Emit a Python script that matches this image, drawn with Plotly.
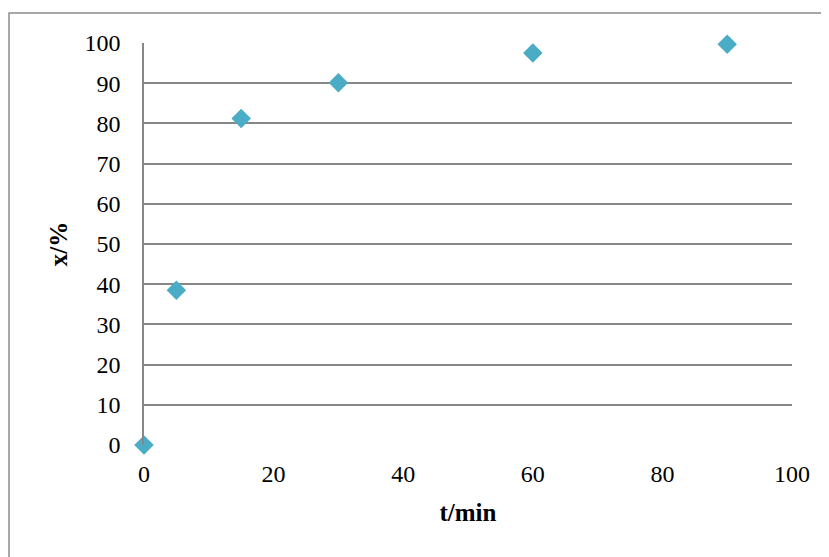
import plotly.graph_objects as go

t_min = [0, 5, 15, 30, 60, 90]
x_pct = [0, 38.5, 81.2, 90.1, 97.5, 99.7]

x_ticks = [0, 20, 40, 60, 80, 100]
y_ticks = [0, 10, 20, 30, 40, 50, 60, 70, 80, 90, 100]

W, H = 821, 549
L, R, T, B = 136, 37, 35, 112
pw, ph = W - L - R, H - T - B

fig = go.Figure()
fig.add_trace(go.Scatter(
    x=t_min, y=x_pct, mode="markers",
    marker=dict(symbol="diamond", size=15, color="#4BACC6", line=dict(width=0)),
    cliponaxis=False, showlegend=False,
))

font_family = "Liberation Serif, Times New Roman, serif"
fig.update_layout(
    width=W, height=H,
    margin=dict(l=L, r=R, t=T, b=B),
    paper_bgcolor="white", plot_bgcolor="white",
    font=dict(family=font_family, size=24, color="#000000"),
    xaxis=dict(
        range=[0, 100], tickvals=x_ticks, showgrid=False, zeroline=False,
        showline=False, ticks="", ticklabelstandoff=12,
        title=dict(text="<b>t/min</b>", font=dict(size=25), standoff=17),
    ),
    yaxis=dict(
        range=[0, 100], tickvals=y_ticks, showgrid=True, gridcolor="#878787",
        gridwidth=1.6, zeroline=False, showline=True, linecolor="#878787",
        linewidth=1.6, ticks="", ticklabelstandoff=17,
        title=dict(text="<b>x/%</b>", font=dict(size=25), standoff=10),
    ),
)

# outer chart border (clipped on right and bottom as in the reference)
fig.add_shape(type="rect", xref="paper", yref="paper",
              x0=(1 - L) / pw, x1=(W + 5 - L) / pw,
              y0=(H - B - (H + 5)) / ph, y1=(H - B - 5) / ph,
              line=dict(color="#8c8c8c", width=1.5), layer="below")

fig.write_html("out.html")
